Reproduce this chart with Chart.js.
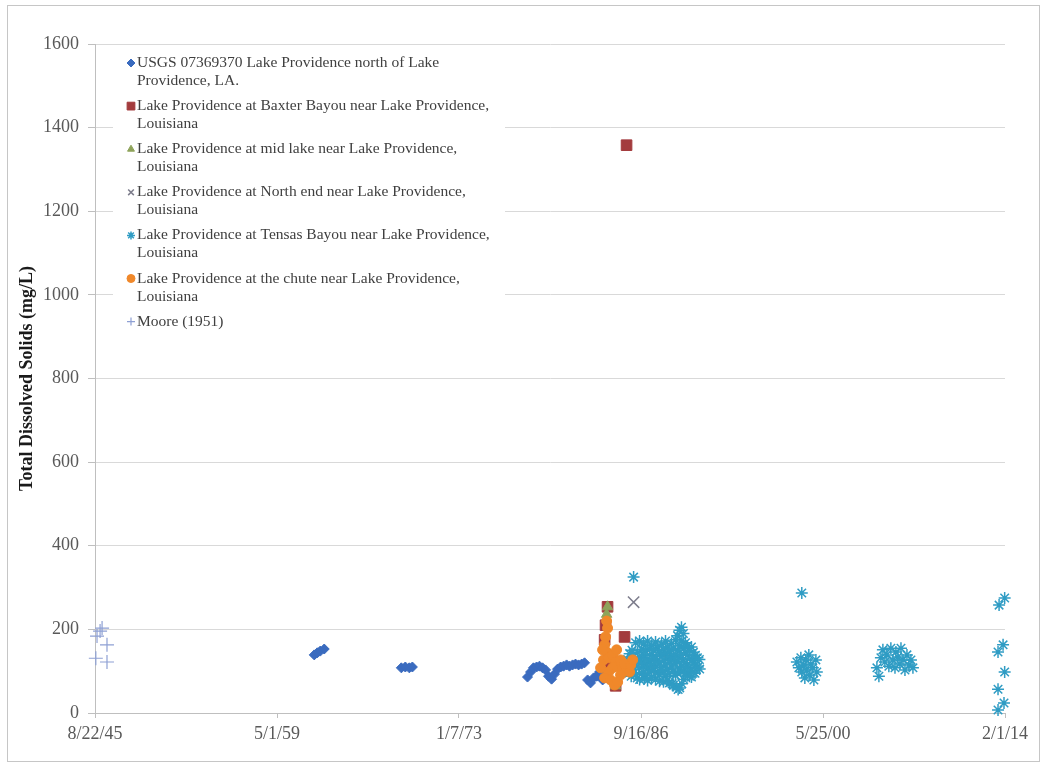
<!DOCTYPE html>
<html>
<head>
<meta charset="utf-8">
<script src="https://cdn.jsdelivr.net/npm/chart.js@4.4.1/dist/chart.umd.min.js"></script>
<style>
  html, body { margin: 0; padding: 0; background: #fff; }
  #wrap { position: relative; width: 1047px; height: 768px; }
</style>
</head>
<body>
<div id="wrap"><canvas id="tds" width="1047" height="768"></canvas></div>
<script>
// x axis runs in decimal years, ticks every 5000 days starting 8/22/45
const xTickYears = [1945.638, 1959.329, 1973.016, 1986.707, 2000.396, 2014.085]
const xTickLabels = ['8/22/45', '5/1/59', '1/7/73', '9/16/86', '5/25/00', '2/1/14']

// [year, total dissolved solids mg/L]
const usgs = [
  [1962.13, 139], [1962.36, 144], [1962.58, 148], [1962.88, 153],
  [1968.68, 108], [1968.98, 110], [1969.28, 108], [1969.51, 110],
  [1978.17, 86], [1978.40, 98], [1978.62, 108], [1978.85, 110], [1979.07, 112],
  [1979.30, 108], [1979.53, 103], [1979.75, 88], [1979.98, 81], [1980.20, 93],
  [1980.43, 105], [1980.66, 110], [1980.88, 112], [1981.11, 115], [1981.33, 112],
  [1981.56, 115], [1981.78, 117], [1982.01, 115], [1982.24, 117], [1982.46, 120],
  [1982.69, 79], [1982.91, 72], [1983.14, 84], [1983.37, 88], [1983.59, 98], [1983.82, 79]
]

const baxterBayou = [
  [1985.62, 1358], [1984.19, 254], [1985.47, 182], [1984.04, 210],
  [1983.97, 175], [1984.42, 120], [1984.80, 65]
]

const midLake = [
  [1984.19, 254], [1984.12, 236], [1984.35, 140], [1984.80, 65]
]

const northEnd = [
  [1986.15, 265], [1986.62, 118], [1987.40, 104], [1988.60, 132]
]

const tensasBayou = [
  [1985.70, 128], [1985.74, 110], [1985.85, 142], [1985.82, 96],
  [1986.00, 120], [1986.03, 150], [1985.97, 88],
  [1986.15, 325], [1986.15, 135], [1986.18, 104],
  [1986.30, 168], [1986.27, 118], [1986.33, 92],
  [1986.45, 145], [1986.48, 125], [1986.42, 84],
  [1986.60, 172], [1986.63, 132], [1986.57, 108], [1986.60, 80],
  [1986.75, 152], [1986.72, 122], [1986.78, 95],
  [1986.90, 165], [1986.93, 138], [1986.88, 112], [1986.95, 82],
  [1987.05, 148], [1987.08, 118], [1987.02, 90],
  [1987.20, 172], [1987.17, 130], [1987.23, 105], [1987.20, 78],
  [1987.35, 155], [1987.38, 125], [1987.32, 98],
  [1987.50, 162], [1987.53, 140], [1987.47, 115], [1987.50, 85],
  [1987.65, 150], [1987.62, 128], [1987.68, 102],
  [1987.80, 170], [1987.83, 135], [1987.77, 110], [1987.80, 80],
  [1987.95, 158], [1987.92, 124], [1987.98, 96],
  [1988.10, 145], [1988.13, 120], [1988.07, 92], [1988.10, 76],
  [1988.25, 165], [1988.28, 138], [1988.22, 108],
  [1988.40, 152], [1988.43, 126], [1988.37, 100], [1988.40, 75],
  [1988.55, 172], [1988.58, 142], [1988.52, 115], [1988.55, 88],
  [1988.70, 158], [1988.73, 130], [1988.67, 104], [1988.70, 78],
  [1988.85, 148], [1988.88, 122], [1988.82, 95], [1988.85, 72],
  [1989.00, 166], [1989.03, 136], [1989.00, 110], [1989.05, 70],
  [1989.15, 155], [1989.18, 128], [1989.12, 100], [1989.15, 66],
  [1989.30, 175], [1989.33, 140], [1989.27, 118], [1989.30, 90], [1989.35, 62],
  [1989.45, 185], [1989.48, 150], [1989.42, 124], [1989.45, 96], [1989.50, 56],
  [1989.60, 198], [1989.63, 160], [1989.57, 132], [1989.60, 105], [1989.62, 60],
  [1989.75, 205], [1989.78, 172], [1989.72, 140], [1989.75, 112], [1989.78, 70],
  [1989.90, 190], [1989.93, 155], [1989.87, 128], [1989.90, 100], [1989.92, 80],
  [1990.05, 168], [1990.08, 145], [1990.02, 120], [1990.05, 94],
  [1990.20, 160], [1990.23, 138], [1990.17, 115], [1990.20, 90],
  [1990.35, 150], [1990.38, 130], [1990.32, 108], [1990.35, 88],
  [1990.50, 158], [1990.53, 126], [1990.47, 102], [1990.50, 86],
  [1990.65, 145], [1990.68, 120], [1990.62, 98],
  [1990.80, 138], [1990.83, 115], [1990.77, 95],
  [1990.95, 132], [1990.98, 110], [1991.10, 128], [1991.12, 105],
  [1998.80, 287],
  [1998.43, 122], [1998.58, 108], [1998.73, 132], [1998.80, 98], [1998.95, 115],
  [1999.03, 84], [1999.10, 127], [1999.18, 103], [1999.33, 139], [1999.41, 91],
  [1999.48, 117], [1999.63, 108], [1999.71, 79], [1999.86, 127], [1999.93, 98],
  [2004.45, 108], [2004.60, 88], [2004.75, 132], [2004.90, 151], [2005.05, 122],
  [2005.20, 139], [2005.35, 112], [2005.50, 155], [2005.66, 127], [2005.81, 108],
  [2005.88, 146], [2006.03, 134], [2006.18, 117], [2006.26, 155], [2006.41, 127],
  [2006.56, 103], [2006.71, 139], [2006.86, 115], [2007.01, 127], [2007.16, 108],
  [2013.64, 258], [2014.06, 275], [2013.56, 146], [2013.94, 163], [2014.06, 98],
  [2013.56, 57], [2014.01, 24], [2013.56, 7]
]

const chute = [
  [1984.12, 220], [1984.19, 203], [1984.04, 182], [1983.97, 163], [1984.12, 146],
  [1983.89, 127], [1984.27, 132], [1984.57, 139], [1984.80, 122], [1985.02, 110],
  [1985.32, 103], [1985.62, 108], [1985.85, 98], [1985.17, 127], [1984.57, 108],
  [1984.27, 98], [1983.97, 84], [1984.42, 79], [1984.72, 67], [1984.95, 74],
  [1985.47, 117], [1985.93, 115], [1983.67, 108], [1983.82, 151], [1986.08, 127],
  [1984.87, 151], [1985.17, 91]
]

const moore1951 = [
  [1945.70, 131], [1946.54, 163], [1946.54, 122],
  [1945.79, 184], [1946.02, 196], [1946.17, 203]
]

const legendLabels = [
  ['USGS 07369370 Lake Providence north of Lake', 'Providence, LA.'],
  ['Lake Providence at Baxter Bayou near Lake Providence,', 'Louisiana'],
  ['Lake Providence at mid lake near Lake Providence,', 'Louisiana'],
  ['Lake Providence at North end near Lake Providence,', 'Louisiana'],
  ['Lake Providence at Tensas Bayou near Lake Providence,', 'Louisiana'],
  ['Lake Providence at the chute near Lake Providence,', 'Louisiana'],
  ['Moore (1951)']
]

const serif = 'Liberation Serif'

function series(points, style, color, radius, filled, lineWidth, order) {
  return {
    data: points.map(p => ({ x: p[0], y: p[1] })),
    pointStyle: style,
    pointRadius: radius,
    pointHoverRadius: radius,
    backgroundColor: filled ? color : 'rgba(0,0,0,0)',
    borderColor: color,
    borderWidth: lineWidth,
    pointBorderWidth: lineWidth,
    order: order,
    clip: false
  }
}

// white page with a thin frame round the whole chart
const frame = {
  id: 'frame',
  beforeDraw(chart) {
    const ctx = chart.ctx
    ctx.save()
    ctx.fillStyle = '#fff'
    ctx.fillRect(0, 0, chart.width, chart.height)
    ctx.strokeStyle = '#c6c6c6'
    ctx.lineWidth = 1
    ctx.strokeRect(7.5, 5.5, 1032, 756)
    ctx.restore()
  }
}

// legend sits inside the plot, labels wrap onto two lines
const insideLegend = {
  id: 'insideLegend',
  afterDatasetsDraw(chart) {
    const { ctx, chartArea } = chart
    const x0 = chartArea.left + 18
    const y0 = chartArea.top + 3
    ctx.save()
    ctx.fillStyle = '#fff'
    ctx.fillRect(x0, y0, 392, 287)
    ctx.font = '15.5px "' + serif + '"'
    ctx.textBaseline = 'middle'
    legendLabels.forEach((lines, i) => {
      const ds = chart.data.datasets[i]
      const y = y0 + 16 + i * 43.1
      ctx.fillStyle = ds.backgroundColor
      ctx.strokeStyle = ds.borderColor
      ctx.lineWidth = ds.borderWidth
      Chart.helpers.drawPoint(ctx, {
        pointStyle: ds.pointStyle,
        radius: ds.pointStyle === 'rect' ? 5.5 : 4,
        rotation: 0,
        borderWidth: ds.borderWidth
      }, x0 + 18, y)
      ctx.fillStyle = '#404040'
      lines.forEach((t, j) => ctx.fillText(t, x0 + 24, y + j * 18))
    })
    ctx.restore()
  }
}

new Chart(document.getElementById('tds'), {
  type: 'scatter',
  data: {
    datasets: [
      series(usgs, 'rectRot', '#3a6bbf', 5, true, 1, 7),
      series(baxterBayou, 'rect', '#a33b3d', 7.5, true, 1, 6),
      series(midLake, 'triangle', '#8ea35a', 6, true, 1, 5),
      series(northEnd, 'crossRot', '#7d7d8c', 8, false, 1.5, 4),
      series(tensasBayou, 'star', '#2f9cc4', 6, false, 1.5, 3),
      series(chute, 'circle', '#f0882a', 5, true, 1, 2),
      series(moore1951, 'cross', '#8ea0d4', 7, false, 1.2, 1)
    ]
  },
  options: {
    responsive: false,
    animation: false,
    devicePixelRatio: 1,
    layout: { padding: { left: 0, top: 44, right: 42, bottom: 0 } },
    plugins: {
      legend: { display: false },
      tooltip: { enabled: false }
    },
    scales: {
      x: {
        type: 'linear',
        min: xTickYears[0],
        max: xTickYears[xTickYears.length - 1],
        afterBuildTicks: scale => {
          scale.ticks = xTickYears.map(v => ({ value: v }))
        },
        afterFit: scale => { scale.height = 55 },
        ticks: {
          callback: (v, i) => xTickLabels[i],
          font: { family: serif, size: 18 },
          color: '#595959',
          padding: 5,
          maxRotation: 0,
          autoSkip: false
        },
        grid: {
          drawOnChartArea: false,
          drawTicks: true,
          tickLength: 5,
          tickColor: '#bfbfbf'
        },
        border: { display: true, color: '#bfbfbf' }
      },
      y: {
        min: 0,
        max: 1600,
        afterFit: scale => { scale.width = 95 },
        ticks: {
          stepSize: 200,
          callback: v => String(v),
          font: { family: serif, size: 18 },
          color: '#595959',
          padding: 9
        },
        grid: {
          color: '#d9d9d9',
          tickLength: 7,
          tickColor: '#bfbfbf'
        },
        border: { display: true, color: '#bfbfbf' },
        title: {
          display: true,
          text: 'Total Dissolved Solids (mg/L)',
          font: { family: serif, size: 18, weight: 'bold' },
          color: '#1a1a1a',
          padding: { top: 17, bottom: 0 }
        }
      }
    }
  },
  plugins: [frame, insideLegend]
})
</script>
</body>
</html>
